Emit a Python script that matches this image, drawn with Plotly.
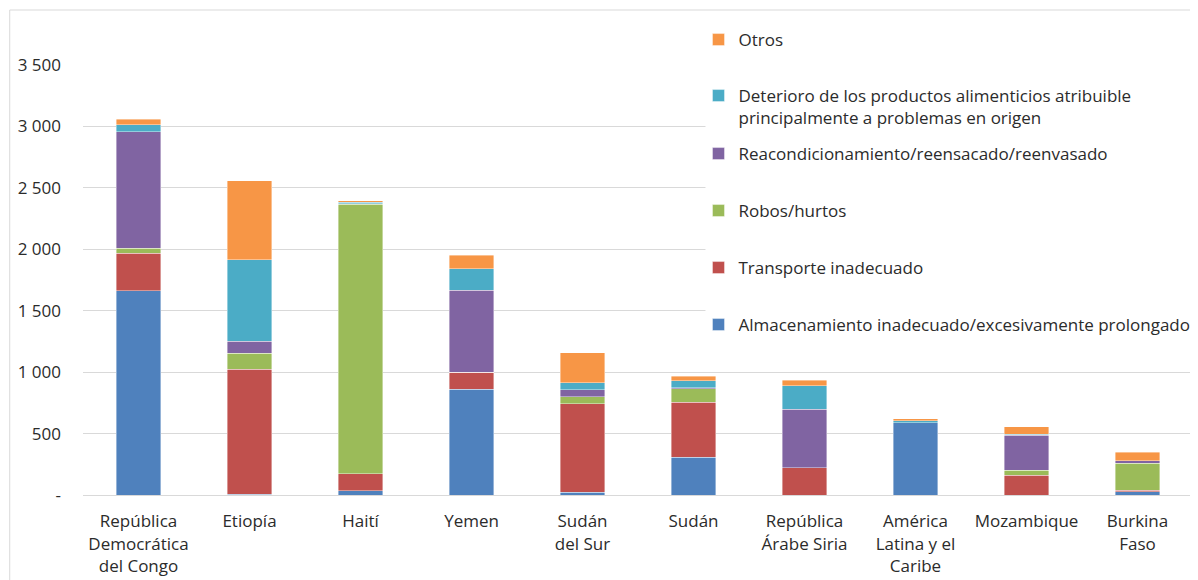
import plotly.graph_objects as go

categories = ["República<br>Democrática<br>del Congo", "Etiopía", "Haití", "Yemen",
              "Sudán<br>del Sur", "Sudán", "República<br>Árabe Siria",
              "América<br>Latina y el<br>Caribe", "Mozambique", "Burkina<br>Faso"]

almacenamiento = [1663, 5, 35, 860, 24, 307, 0, 589, 0, 25]
transporte     = [304, 1018, 136, 139, 719, 447, 220, 0, 160, 13]
robos          = [43, 130, 2195, 0, 55, 111, 0, 0, 43, 222]
reacond        = [947, 98, 5, 667, 59, 8, 477, 0, 283, 17]
deterioro      = [57, 664, 10, 176, 57, 57, 193, 16, 8, 0]
otros          = [46, 641, 14, 109, 244, 38, 46, 14, 62, 73]

series_names = [
    "Almacenamiento inadecuado/excesivamente prolongado",
    "Transporte inadecuado",
    "Robos/hurtos",
    "Reacondicionamiento/reensacado/reenvasado",
    "Deterioro de los productos alimenticios atribuible<br>principalmente a problemas en origen",
    "Otros",
]
series_values = [almacenamiento, transporte, robos, reacond, deterioro, otros]
series_colors = ["#4F81BD", "#C0504D", "#9BBB59", "#8064A2", "#4BACC6", "#F79646"]

ytick_vals = [0, 500, 1000, 1500, 2000, 2500, 3000, 3500]
ytick_text = ["-", "500", "1 000", "1 500", "2 000", "2 500", "3 000", "3 500"]

# page offset (default body margin) and plot area geometry in screen pixels
OFF = 8
WIN_W, WIN_H = 1198, 580
W, H = WIN_W - OFF, WIN_H - OFF
L, R, T, B = 83.4 - OFF, 1195.4 - OFF, 65 - OFF, 495 - OFF

def px_x(p):
    return (p - OFF - L) / (R - L)

def px_y(p):
    return (B - (p - OFF)) / (B - T)

legend_names = ["legend6", "legend5", "legend4", "legend3", "legend2", "legend"]
legend_y_px = [325, 268, 211, 154, 107, 40]

fig = go.Figure()
for name, vals, col, lg in zip(series_names, series_values, series_colors, legend_names):
    fig.add_trace(go.Bar(
        x=categories, y=vals, name=name, legend=lg,
        marker=dict(color=col, line=dict(color="rgba(255,255,255,0.5)", width=0.8)),
    ))

font = dict(family="Open Sans, sans-serif", size=17, color="#2b2b2b")
leg_common = dict(xanchor="left", yanchor="middle", x=px_x(700), bgcolor="rgba(0,0,0,0)",
                  font=font, valign="top", borderwidth=0)
layout_legends = {}
for lg, ypx in zip(legend_names, legend_y_px):
    layout_legends[lg] = dict(y=px_y(ypx), **leg_common)

fig.update_layout(
    barmode="stack",
    bargap=0.6,
    width=W, height=H,
    margin=dict(l=L, r=W - R, t=T, b=H - B),
    paper_bgcolor="white", plot_bgcolor="white",
    font=font,
    showlegend=True,
    **layout_legends,
    xaxis=dict(showgrid=False, showline=True, linecolor="#d9d9d9", linewidth=1,
               ticks="", tickfont=font, ticklabelstandoff=11),
    yaxis=dict(range=[0, 3500], tickvals=ytick_vals, ticktext=ytick_text,
               showgrid=True, gridcolor="#d9d9d9", gridwidth=1, zeroline=False,
               showline=False, ticks="", tickfont=font, ticklabelstandoff=21),
    shapes=[
        dict(type="rect", xref="paper", yref="paper", layer="above",
             x0=px_x(707), x1=px_x(1200), y0=px_y(345), y1=px_y(20),
             fillcolor="white", line=dict(width=0)),
        dict(type="rect", xref="paper", yref="paper", layer="above",
             x0=px_x(10), x1=px_x(1215), y0=px_y(600), y1=px_y(10),
             fillcolor="rgba(0,0,0,0)", line=dict(color="#d9d9d9", width=1)),
    ],
)

fig.write_html("out.html")
